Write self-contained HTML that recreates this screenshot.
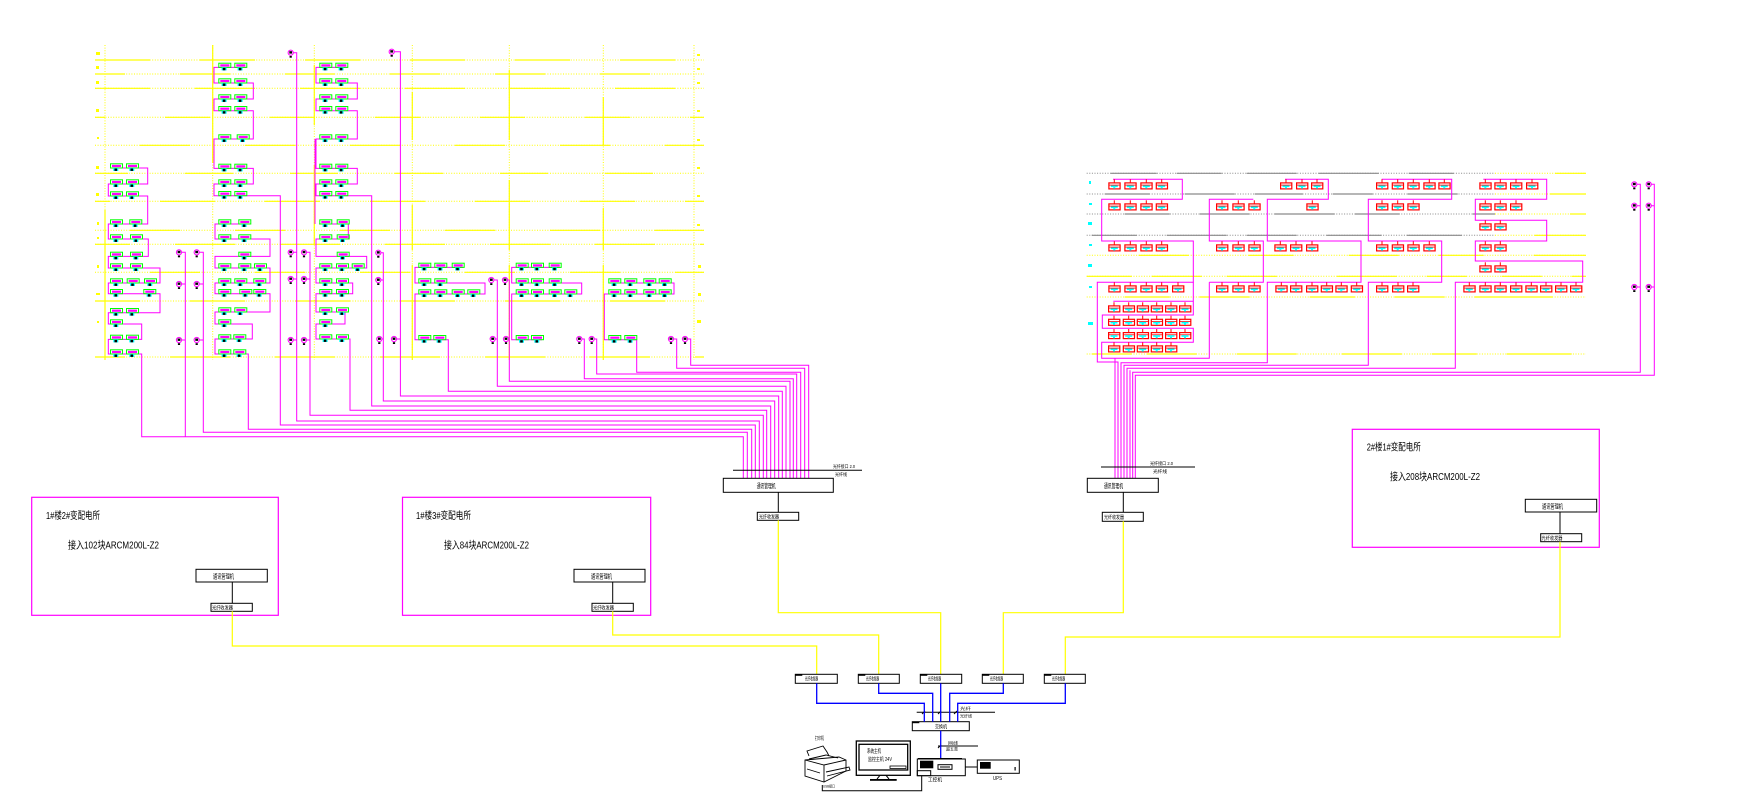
<!DOCTYPE html>
<html><head><meta charset="utf-8">
<style>
html,body{margin:0;padding:0;background:#fff;}
svg{display:block;}
.yd{stroke:#ff0;stroke-width:1;stroke-dasharray:1 1.6;fill:none}
.ys{stroke:#ff0;stroke-width:1.2;fill:none}
.gd{stroke:#8a8a8a;stroke-width:1;stroke-dasharray:1 1.6;fill:none}
.gs{stroke:#8a8a8a;stroke-width:1.2;fill:none}
.m{stroke:#f0f;fill:none;stroke-width:1}
.k{stroke:#000;fill:none;stroke-width:1}
.b{stroke:#00f;fill:none;stroke-width:1.3}
.yl{stroke:#ff0;fill:none;stroke-width:1.2}
text{font-family:"Liberation Sans","Noto Sans CJK SC",sans-serif;fill:#000}
</style></head>
<body>
<svg width="1744" height="812" viewBox="0 0 1744 812" xmlns="http://www.w3.org/2000/svg">
<defs>
<g id="dg">
<rect x="0.5" y="0.5" width="12" height="4.2" fill="none" stroke="#00ff00" stroke-width="1"/>
<rect x="2" y="1.6" width="9" height="2.2" fill="#ff00ff"/>
<rect x="3.3" y="4.7" width="5" height="3" fill="#00ffff"/>
<rect x="4.5" y="5.2" width="2.6" height="2.4" fill="#000"/>
</g>
<g id="dr">
<line x1="6" y1="-3" x2="6" y2="0.5" stroke="#f00" stroke-width="1"/>
<rect x="0.6" y="0.6" width="11.2" height="6" fill="none" stroke="#f00" stroke-width="1.2"/>
<line x1="0.6" y1="2.8" x2="11.8" y2="2.8" stroke="#f00" stroke-width="0.8"/>
<rect x="2.5" y="3.2" width="7" height="1.6" fill="#0ff"/>
<rect x="5" y="4.8" width="2" height="1.5" fill="#0ff"/>
</g>
<g id="pd">
<circle r="2.6" fill="none" stroke="#f0f" stroke-width="1"/>
<rect x="-1.4" y="-1.5" width="2.8" height="2.4" fill="#000"/>
<rect x="-1.1" y="3.2" width="2.2" height="1.8" fill="#000"/>
</g>
</defs>

<!-- ============ LEFT SECTION GRID ============ -->
<g>
<line class="yd" x1="95" y1="60" x2="704" y2="60"/><line class="ys" x1="95" y1="60" x2="704" y2="60" stroke-dasharray="55 50" stroke-dashoffset="0"/>
<line class="yd" x1="95" y1="74" x2="704" y2="74"/><line class="ys" x1="95" y1="74" x2="704" y2="74" stroke-dasharray="50 55" stroke-dashoffset="20"/>
<line class="yd" x1="95" y1="88.3" x2="704" y2="88.3"/><line class="ys" x1="95" y1="88.3" x2="704" y2="88.3" stroke-dasharray="60 45" stroke-dashoffset="5"/>
<line class="yd" x1="95" y1="117.3" x2="704" y2="117.3"/><line class="ys" x1="95" y1="117.3" x2="704" y2="117.3" stroke-dasharray="45 60" stroke-dashoffset="35"/>
<line class="yd" x1="95" y1="145.3" x2="704" y2="145.3"/><line class="ys" x1="95" y1="145.3" x2="704" y2="145.3" stroke-dasharray="50 55" stroke-dashoffset="60"/>
<line class="yd" x1="95" y1="173.3" x2="704" y2="173.3"/><line class="ys" x1="95" y1="173.3" x2="704" y2="173.3" stroke-dasharray="48 57" stroke-dashoffset="15"/>
<line class="yd" x1="95" y1="201.3" x2="704" y2="201.3"/><line class="ys" x1="95" y1="201.3" x2="704" y2="201.3" stroke-dasharray="55 50" stroke-dashoffset="40"/>
<line class="yd" x1="95" y1="230.3" x2="704" y2="230.3"/><line class="ys" x1="95" y1="230.3" x2="704" y2="230.3" stroke-dasharray="50 55" stroke-dashoffset="70"/>
<line class="yd" x1="95" y1="244.3" x2="704" y2="244.3"/><line class="ys" x1="95" y1="244.3" x2="704" y2="244.3" stroke-dasharray="60 45" stroke-dashoffset="25"/>
<line class="yd" x1="95" y1="272.3" x2="704" y2="272.3"/><line class="ys" x1="95" y1="272.3" x2="704" y2="272.3" stroke-dasharray="50 55" stroke-dashoffset="50"/>
<line class="yd" x1="95" y1="301" x2="704" y2="301"/><line class="ys" x1="95" y1="301" x2="704" y2="301" stroke-dasharray="55 50" stroke-dashoffset="10"/>
<line class="yd" x1="95" y1="357" x2="704" y2="357"/><line class="ys" x1="95" y1="357" x2="704" y2="357" stroke-dasharray="60 45" stroke-dashoffset="30"/>
<!-- verticals -->
<line class="yd" x1="105" y1="45" x2="105" y2="360"/><line class="ys" x1="105" y1="45" x2="105" y2="360" stroke-dasharray="0 165 195 0"/>
<line class="yd" x1="212.7" y1="45" x2="212.7" y2="360"/><line class="ys" x1="212.7" y1="45" x2="212.7" y2="163"/>
<line class="yd" x1="314.3" y1="45" x2="314.3" y2="360"/><line class="ys" x1="314.3" y1="45" x2="314.3" y2="360" stroke-dasharray="0 20 60 40 80 300"/>
<line class="yd" x1="412.3" y1="45" x2="412.3" y2="360"/><line class="ys" x1="412.3" y1="45" x2="412.3" y2="360" stroke-dasharray="0 47 48 65 45 15 95"/>
<line class="yd" x1="509.3" y1="45" x2="509.3" y2="360"/><line class="ys" x1="509.3" y1="45" x2="509.3" y2="360" stroke-dasharray="0 25 70 40 70 15 90"/>
<line class="yd" x1="603.3" y1="45" x2="603.3" y2="360"/><line class="ys" x1="603.3" y1="45" x2="603.3" y2="360" stroke-dasharray="0 52 48 63 42 15 90"/>
<line class="yd" x1="694" y1="45" x2="694" y2="360"/>
<!-- floor labels -->
<g fill="#ff0">
<rect x="96" y="52" width="4" height="3"/><rect x="96" y="66" width="3" height="3"/><rect x="96" y="81" width="3" height="3"/>
<rect x="96" y="109" width="3" height="3"/><rect x="97" y="137" width="2" height="2"/><rect x="96" y="166" width="3" height="3"/>
<rect x="96" y="193" width="3" height="3"/><rect x="97" y="222" width="2" height="3"/><rect x="97" y="237" width="2" height="2"/>
<rect x="97" y="265" width="2" height="3"/><rect x="96" y="293" width="4" height="2"/><rect x="97" y="321" width="2" height="2"/>
<rect x="697" y="54" width="3" height="2"/><rect x="697" y="68" width="3" height="2"/><rect x="697" y="82" width="3" height="2"/>
<rect x="697" y="110" width="3" height="2"/><rect x="697" y="139" width="3" height="2"/><rect x="697" y="167" width="3" height="2"/>
<rect x="697" y="195" width="3" height="2"/><rect x="697" y="224" width="3" height="2"/><rect x="698" y="265" width="3" height="3"/>
<rect x="698" y="293" width="3" height="3"/><rect x="697" y="320" width="4" height="3"/>
</g>
</g>

<!-- ============ LEFT MAGENTA CHAINS / BUNDLE ============ -->
<g class="m">
<path d="M110 168H147.7V184H108.3V196H147.7V224H108.3V239H148.3V256.4H108.3V268H160V283H108.3V293.7H160V312.7H108.3V324H141.7V339.4H108.3V354H141.7V436.7H743.3V478.3"/>
<path d="M181.6 252.3H185.3V436.7M181.6 284H185.3M181.6 340H185.3"/>
<path d="M199.3 252.3H203.3V432.3H747.3V478.3M199.3 284H203.3M199.3 340H203.3"/>
<path d="M247 67.4H214V83H253.3V99H214V110.7H253.3V139H214V168.4H253.3V184H214V195.7H280.3V425H755.3V478.3"/>
<path d="M251 224H215V239H270V256.4H215V268H270V283H215V293.7H270V312H215V324H252.3V339H215V354H248.3V429.3H751.7V478.3"/>
<path d="M293.3 52.7H296.7V421H759.3V478.3M293.3 252.3H296.7M293.3 279H296.7M293.3 340H296.7"/>
<path d="M306.6 252.3H310V415.3H763.3V478.3M306.6 279H310M306.6 340H310"/>
<path d="M348 67.4H316V83H357.3V99H316V110.7H357.3V139H316V168.4H357.3V184H316V195.7H371.7V406H770.7V478.3"/>
<path d="M315 139V224"/>
<path d="M319 224H348.3V239H316V256.4H366.7V268H316V283H352.7V293.7H316V312H345V324H316V339H350V410.3H766.7V478.3"/>
<path d="M380.9 252.7H383.3V401H774.7V478.3M380.9 280H383.3M381.9 339H383.3"/>
<path d="M394.3 51.7H400.4V396H778.7V478.3M396.6 339H400.4"/>
<path d="M463.3 267.4H415V283H485V294H415V339.7H448.3V391.3H782.3V478.3"/>
<path d="M493.9 280H497.3V386.3H786V478.3M495.3 339H497.3"/>
<path d="M507.6 280H509.3V381.3H790V478.3M508.6 339H509.3"/>
<path d="M560 267.4H511.7V283H581.7V294H511.7V339.7H542"/>
<path d="M581.9 339H584.3V378.7H793.3V478.3"/>
<path d="M594.3 339H596.7V374H796.7V478.3"/>
<path d="M608.3 283H674V294H604.3V339.7H636.7V372.3H800.7V478.3"/>
<path d="M673.6 339H676.7V368.3H804.7V478.3"/>
<path d="M687.6 339H690.7V365.3H808.7V478.3"/>
</g>

<!-- pendants left -->
<use href="#pd" x="290.7" y="52.7"/><use href="#pd" x="391.7" y="51.7"/>
<use href="#pd" x="179" y="252.3"/><use href="#pd" x="196.7" y="252.3"/>
<use href="#pd" x="179" y="284"/><use href="#pd" x="196.7" y="284"/>
<use href="#pd" x="179" y="340"/><use href="#pd" x="196.7" y="340"/>
<use href="#pd" x="290.7" y="252.3"/><use href="#pd" x="304" y="252.3"/>
<use href="#pd" x="290.7" y="279"/><use href="#pd" x="304" y="279"/>
<use href="#pd" x="290.7" y="340"/><use href="#pd" x="304" y="340"/>
<use href="#pd" x="378.3" y="252.7"/><use href="#pd" x="378.3" y="280"/>
<use href="#pd" x="379.3" y="339"/><use href="#pd" x="394" y="339"/>
<use href="#pd" x="491.3" y="280"/><use href="#pd" x="505" y="280"/>
<use href="#pd" x="492.7" y="339"/><use href="#pd" x="506" y="339"/>
<use href="#pd" x="579.3" y="339"/><use href="#pd" x="591.7" y="339"/>
<use href="#pd" x="671" y="339"/><use href="#pd" x="685" y="339"/>

<!-- green devices: col A -->
<use href="#dg" x="110" y="163.3"/><use href="#dg" x="126" y="163.3"/>
<use href="#dg" x="110" y="179.3"/><use href="#dg" x="126" y="179.3"/>
<use href="#dg" x="110" y="191.3"/><use href="#dg" x="126" y="191.3"/>
<use href="#dg" x="110" y="219.3"/><use href="#dg" x="129.3" y="219.3"/>
<use href="#dg" x="110" y="234.3"/><use href="#dg" x="130" y="234.3"/>
<use href="#dg" x="110" y="251.7"/><use href="#dg" x="130" y="251.7"/>
<use href="#dg" x="110" y="263.3"/><use href="#dg" x="130" y="263.3"/>
<use href="#dg" x="110" y="278.3"/><use href="#dg" x="126.7" y="278.3"/><use href="#dg" x="144" y="278.3"/>
<use href="#dg" x="110" y="289"/><use href="#dg" x="143.3" y="289"/>
<use href="#dg" x="110" y="308"/><use href="#dg" x="126" y="308"/>
<use href="#dg" x="110" y="319.3"/>
<use href="#dg" x="110" y="334.7"/><use href="#dg" x="126" y="334.7"/>
<use href="#dg" x="110" y="349.3"/><use href="#dg" x="126" y="349.3"/>
<!-- col B -->
<use href="#dg" x="218.3" y="62.7"/><use href="#dg" x="234.3" y="62.7"/>
<use href="#dg" x="218.3" y="78.3"/><use href="#dg" x="234.3" y="78.3"/>
<use href="#dg" x="218.3" y="94.3"/><use href="#dg" x="234.3" y="94.3"/>
<use href="#dg" x="218.3" y="106"/><use href="#dg" x="234.3" y="106"/>
<use href="#dg" x="218.3" y="134.3"/><use href="#dg" x="236.7" y="134.3"/>
<use href="#dg" x="218.3" y="163.7"/><use href="#dg" x="234.3" y="163.7"/>
<use href="#dg" x="218.3" y="179.3"/><use href="#dg" x="234.3" y="179.3"/>
<use href="#dg" x="218.3" y="191"/><use href="#dg" x="234.3" y="191"/>
<use href="#dg" x="218.3" y="219.3"/><use href="#dg" x="238.3" y="219.3"/>
<use href="#dg" x="218.3" y="234.3"/><use href="#dg" x="238.3" y="234.3"/>
<use href="#dg" x="238.3" y="251.7"/>
<use href="#dg" x="218.3" y="263.3"/><use href="#dg" x="238.3" y="263.3"/><use href="#dg" x="254" y="263.3"/>
<use href="#dg" x="218.3" y="278.3"/><use href="#dg" x="234.3" y="278.3"/><use href="#dg" x="253.3" y="278.3"/>
<use href="#dg" x="218.3" y="289"/><use href="#dg" x="239.3" y="289"/><use href="#dg" x="253.3" y="289"/>
<use href="#dg" x="218.3" y="307.3"/><use href="#dg" x="234.3" y="307.3"/>
<use href="#dg" x="218.3" y="319.3"/>
<use href="#dg" x="218.3" y="334.3"/><use href="#dg" x="233.3" y="334.3"/>
<use href="#dg" x="218.3" y="349.3"/><use href="#dg" x="233.3" y="349.3"/>
<!-- col C -->
<use href="#dg" x="319.3" y="62.7"/><use href="#dg" x="335.3" y="62.7"/>
<use href="#dg" x="319.3" y="78.3"/><use href="#dg" x="335.3" y="78.3"/>
<use href="#dg" x="319.3" y="94.3"/><use href="#dg" x="335.3" y="94.3"/>
<use href="#dg" x="319.3" y="106"/><use href="#dg" x="335.3" y="106"/>
<use href="#dg" x="319.3" y="134.3"/><use href="#dg" x="335.3" y="134.3"/>
<use href="#dg" x="319.3" y="163.7"/><use href="#dg" x="335.3" y="163.7"/>
<use href="#dg" x="319.3" y="179.3"/><use href="#dg" x="335.3" y="179.3"/>
<use href="#dg" x="319.3" y="191"/><use href="#dg" x="335.3" y="191"/>
<use href="#dg" x="319.3" y="219.3"/><use href="#dg" x="336.7" y="219.3"/>
<use href="#dg" x="319.3" y="234.3"/><use href="#dg" x="336.7" y="234.3"/>
<use href="#dg" x="336.7" y="251.7"/>
<use href="#dg" x="319.3" y="263.3"/><use href="#dg" x="336" y="263.3"/><use href="#dg" x="351.7" y="263.3"/>
<use href="#dg" x="319.3" y="278.3"/><use href="#dg" x="336" y="278.3"/>
<use href="#dg" x="319.3" y="289"/><use href="#dg" x="336" y="289"/>
<use href="#dg" x="319.3" y="307.3"/><use href="#dg" x="336" y="307.3"/>
<use href="#dg" x="319.3" y="319.3"/>
<use href="#dg" x="319.3" y="334.3"/><use href="#dg" x="336" y="334.3"/>
<!-- group D -->
<use href="#dg" x="418.3" y="262.7"/><use href="#dg" x="434.3" y="262.7"/><use href="#dg" x="451.7" y="262.7"/>
<use href="#dg" x="418.3" y="278.3"/><use href="#dg" x="434.3" y="278.3"/>
<use href="#dg" x="418.3" y="289.3"/><use href="#dg" x="434.3" y="289.3"/><use href="#dg" x="451.7" y="289.3"/><use href="#dg" x="467.3" y="289.3"/>
<use href="#dg" x="418.3" y="335"/><use href="#dg" x="433.3" y="335"/>
<!-- group E -->
<use href="#dg" x="515.7" y="262.7"/><use href="#dg" x="531" y="262.7"/><use href="#dg" x="548.7" y="262.7"/>
<use href="#dg" x="515.7" y="278.3"/><use href="#dg" x="531" y="278.3"/><use href="#dg" x="548.7" y="278.3"/>
<use href="#dg" x="515.7" y="289.3"/><use href="#dg" x="531" y="289.3"/><use href="#dg" x="548.7" y="289.3"/><use href="#dg" x="564.3" y="289.3"/>
<use href="#dg" x="515.7" y="335"/><use href="#dg" x="531" y="335"/>
<!-- group F -->
<use href="#dg" x="608.3" y="278.3"/><use href="#dg" x="624.3" y="278.3"/><use href="#dg" x="643.3" y="278.3"/><use href="#dg" x="658.7" y="278.3"/>
<use href="#dg" x="608.3" y="289.3"/><use href="#dg" x="624.3" y="289.3"/><use href="#dg" x="643.3" y="289.3"/><use href="#dg" x="658.7" y="289.3"/>
<use href="#dg" x="608.3" y="335"/><use href="#dg" x="624.3" y="335"/>

<!-- ============ RIGHT SECTION GRID ============ -->
<g>
<line class="gd" x1="1086.7" y1="173.3" x2="1495" y2="173.3"/><line class="gs" x1="1086.7" y1="173.3" x2="1495" y2="173.3" stroke-dasharray="0 24 46 20 45 25 50 22 60 30 45 35"/>
<line class="gd" x1="1086.7" y1="194" x2="1495" y2="194"/><line class="gs" x1="1086.7" y1="194" x2="1495" y2="194" stroke-dasharray="0 18 45 35 50 20 48 30 40 35 50 25"/>
<line class="gd" x1="1086.7" y1="214" x2="1495" y2="214"/><line class="gs" x1="1086.7" y1="214" x2="1495" y2="214" stroke-dasharray="0 38 45 30 50 25 60 20 45 35"/>
<line class="gd" x1="1086.7" y1="235.3" x2="1495" y2="235.3"/><line class="gs" x1="1086.7" y1="235.3" x2="1495" y2="235.3" stroke-dasharray="0 5 45 30 60 20 50 30 55 25 50"/>
<line class="yd" x1="1495" y1="173.3" x2="1586" y2="173.3"/><line class="ys" x1="1555" y1="173.3" x2="1586" y2="173.3"/>
<line class="yd" x1="1495" y1="194" x2="1586" y2="194"/><line class="ys" x1="1550" y1="194" x2="1586" y2="194"/>
<line class="yd" x1="1495" y1="214" x2="1586" y2="214"/><line class="ys" x1="1570" y1="214" x2="1586" y2="214"/>
<line class="yd" x1="1495" y1="235.3" x2="1586" y2="235.3"/><line class="ys" x1="1535" y1="235.3" x2="1586" y2="235.3"/>
<line class="yd" x1="1086.7" y1="255.3" x2="1586" y2="255.3"/><line class="ys" x1="1086.7" y1="255.3" x2="1586" y2="255.3" stroke-dasharray="0 52 50 60 45 55 50 40 45 50 40"/>
<line class="yd" x1="1086.7" y1="276.3" x2="1586" y2="276.3"/><line class="ys" x1="1086.7" y1="276.3" x2="1586" y2="276.3" stroke-dasharray="45 20 50 25 50 60 60 30 40 35 40 30"/>
<line class="yd" x1="1086.7" y1="297" x2="1586" y2="297"/><line class="ys" x1="1086.7" y1="297" x2="1586" y2="297" stroke-dasharray="0 38 45 30 50 60 45 40 50 30 40"/>
<line class="yd" x1="1086.7" y1="354" x2="1586" y2="354"/><line class="ys" x1="1086.7" y1="354" x2="1586" y2="354" stroke-dasharray="0 5 40 15 50 40 60 45 60 30 45 30 60"/>
<g fill="#0ff">
<rect x="1089" y="181" width="2" height="3"/><rect x="1089" y="203" width="3" height="2"/><rect x="1088" y="222" width="4" height="3"/>
<rect x="1089" y="244" width="3" height="2"/><rect x="1088" y="264" width="4" height="3"/><rect x="1089" y="286" width="3" height="2"/>
<rect x="1088" y="322" width="5" height="3"/>
</g>
</g>

<!-- right magenta -->
<g class="m">
<path d="M1113 179.3H1182.3V199.3H1101.7V241H1193.3V282.3H1097.3V362H1118V478.3"/>
<path d="M1193.3 282.3V301.3M1113.3 301.3H1193.3V315H1102.3V328.3H1193.3V342.3H1101.7V358.3H1209.3V282.3"/>
<path d="M1115 358.3V478.3"/>
<path d="M1253.3 199.3H1209.3V241H1263.3V282.3H1209.3"/>
<path d="M1285 179.3H1328.3V199.3H1267.3V241H1361V282.3H1267.3V362.7H1121V478.3"/>
<path d="M1381.7 179.3H1451.7V199.3H1368.3V241H1441.7V282.3H1368.3V365.3H1124V478.3"/>
<path d="M1483.3 179.3H1546.7V199.3H1475.3V220.3H1546.7V241H1475.3V261H1582.7V282.3H1455.3V368.3H1127V478.3"/>
<path d="M1130 370.3V478.3"/>
<path d="M1637 184.3H1640.3V372.3H1132.7V478.3M1637 205.7H1640.3M1637 287H1640.3"/>
<path d="M1651.4 184.3H1654.3V375.3H1135.3V478.3M1651.4 205.7H1654.3M1651.4 287H1654.3"/>
</g>
<use href="#pd" x="1634.3" y="184.3"/><use href="#pd" x="1648.7" y="184.3"/>
<use href="#pd" x="1634.3" y="205.7"/><use href="#pd" x="1648.7" y="205.7"/>
<use href="#pd" x="1634.3" y="287"/><use href="#pd" x="1648.7" y="287"/>

<!-- red devices group 1 -->
<use href="#dr" x="1108.3" y="182.3"/><use href="#dr" x="1124.3" y="182.3"/><use href="#dr" x="1140.3" y="182.3"/><use href="#dr" x="1155.7" y="182.3"/>
<use href="#dr" x="1108.3" y="203.3"/><use href="#dr" x="1124.3" y="203.3"/><use href="#dr" x="1140.3" y="203.3"/><use href="#dr" x="1155.7" y="203.3"/>
<use href="#dr" x="1108.3" y="244.3"/><use href="#dr" x="1124.3" y="244.3"/><use href="#dr" x="1140.3" y="244.3"/><use href="#dr" x="1155.7" y="244.3"/>
<use href="#dr" x="1108.3" y="285.3"/><use href="#dr" x="1124.3" y="285.3"/><use href="#dr" x="1140.3" y="285.3"/><use href="#dr" x="1155.7" y="285.3"/><use href="#dr" x="1172" y="285.3"/>
<use href="#dr" x="1108" y="305.3"/><use href="#dr" x="1122.7" y="305.3"/><use href="#dr" x="1136.7" y="305.3"/><use href="#dr" x="1150.7" y="305.3"/><use href="#dr" x="1165" y="305.3"/><use href="#dr" x="1179" y="305.3"/>
<use href="#dr" x="1108" y="318.7"/><use href="#dr" x="1122.7" y="318.7"/><use href="#dr" x="1136.7" y="318.7"/><use href="#dr" x="1150.7" y="318.7"/><use href="#dr" x="1165" y="318.7"/><use href="#dr" x="1179" y="318.7"/>
<use href="#dr" x="1108" y="332"/><use href="#dr" x="1122.7" y="332"/><use href="#dr" x="1136.7" y="332"/><use href="#dr" x="1150.7" y="332"/><use href="#dr" x="1165" y="332"/><use href="#dr" x="1179" y="332"/>
<use href="#dr" x="1108" y="345.3"/><use href="#dr" x="1122.7" y="345.3"/><use href="#dr" x="1136.7" y="345.3"/><use href="#dr" x="1150.7" y="345.3"/><use href="#dr" x="1165" y="345.3"/>
<!-- group 2 -->
<use href="#dr" x="1216" y="203.3"/><use href="#dr" x="1232.3" y="203.3"/><use href="#dr" x="1248.3" y="203.3"/>
<use href="#dr" x="1216" y="244.3"/><use href="#dr" x="1232.3" y="244.3"/><use href="#dr" x="1248.3" y="244.3"/>
<use href="#dr" x="1216" y="285.3"/><use href="#dr" x="1232.3" y="285.3"/><use href="#dr" x="1248.3" y="285.3"/>
<!-- group 3 -->
<use href="#dr" x="1280" y="182.3"/><use href="#dr" x="1296" y="182.3"/><use href="#dr" x="1311" y="182.3"/>
<use href="#dr" x="1306.3" y="203.3"/>
<use href="#dr" x="1274.3" y="244.3"/><use href="#dr" x="1290" y="244.3"/><use href="#dr" x="1306" y="244.3"/>
<use href="#dr" x="1275.3" y="285.3"/><use href="#dr" x="1290" y="285.3"/><use href="#dr" x="1306" y="285.3"/><use href="#dr" x="1320.7" y="285.3"/><use href="#dr" x="1335.3" y="285.3"/><use href="#dr" x="1350.7" y="285.3"/>
<!-- group 4 -->
<use href="#dr" x="1376" y="182.3"/><use href="#dr" x="1391.7" y="182.3"/><use href="#dr" x="1407.3" y="182.3"/><use href="#dr" x="1423.3" y="182.3"/><use href="#dr" x="1438.3" y="182.3"/>
<use href="#dr" x="1376" y="203.3"/><use href="#dr" x="1391.7" y="203.3"/><use href="#dr" x="1407.3" y="203.3"/>
<use href="#dr" x="1376" y="244.3"/><use href="#dr" x="1391.7" y="244.3"/><use href="#dr" x="1407.3" y="244.3"/><use href="#dr" x="1423.3" y="244.3"/>
<use href="#dr" x="1376" y="285.3"/><use href="#dr" x="1392" y="285.3"/><use href="#dr" x="1407" y="285.3"/>
<!-- group 5 -->
<use href="#dr" x="1479.3" y="182.3"/><use href="#dr" x="1494.3" y="182.3"/><use href="#dr" x="1510" y="182.3"/><use href="#dr" x="1526" y="182.3"/>
<use href="#dr" x="1479.3" y="203.3"/><use href="#dr" x="1494.3" y="203.3"/><use href="#dr" x="1510" y="203.3"/>
<use href="#dr" x="1479.3" y="223.3"/><use href="#dr" x="1494.3" y="223.3"/>
<use href="#dr" x="1479.3" y="244.3"/><use href="#dr" x="1494.3" y="244.3"/>
<use href="#dr" x="1479.3" y="265.3"/><use href="#dr" x="1494.3" y="265.3"/>
<use href="#dr" x="1463.3" y="285.3"/><use href="#dr" x="1479.3" y="285.3"/><use href="#dr" x="1494.3" y="285.3"/><use href="#dr" x="1510" y="285.3"/><use href="#dr" x="1525.3" y="285.3"/><use href="#dr" x="1540" y="285.3"/><use href="#dr" x="1555" y="285.3"/><use href="#dr" x="1570" y="285.3"/>

<!-- ============ BUNDLE BOXES ============ -->
<g class="k">
<line x1="733" y1="470.3" x2="862" y2="470.3"/>
<rect x="723.3" y="478.3" width="110" height="14"/>
<line x1="778.3" y1="492.3" x2="778.3" y2="512.3"/>
<rect x="757.3" y="512.3" width="41.4" height="8"/>
<line x1="1101" y1="467" x2="1195" y2="467"/>
<rect x="1087.3" y="478.3" width="71" height="14"/>
<line x1="1123.3" y1="492.3" x2="1123.3" y2="512.3"/>
<rect x="1102.3" y="512.3" width="41" height="9"/>
</g>
<text x="756.7" y="488" font-size="6.5" textLength="19" lengthAdjust="spacingAndGlyphs">通讯管理机</text>
<text x="759" y="518.5" font-size="5" textLength="20" lengthAdjust="spacingAndGlyphs">光纤收发器</text>
<text x="833" y="468" font-size="4.5" textLength="22" lengthAdjust="spacingAndGlyphs">光纤接口 2.0</text>
<text x="835" y="476" font-size="4.5" textLength="12" lengthAdjust="spacingAndGlyphs">光纤线</text>
<text x="1104" y="488" font-size="6.5" textLength="19" lengthAdjust="spacingAndGlyphs">通讯管理机</text>
<text x="1104" y="519" font-size="5" textLength="20" lengthAdjust="spacingAndGlyphs">光纤收发器</text>
<text x="1150" y="465" font-size="4.5" textLength="23" lengthAdjust="spacingAndGlyphs">光纤接口 2.0</text>
<text x="1153" y="473" font-size="4.5" textLength="14" lengthAdjust="spacingAndGlyphs">光纤线</text>

<!-- ============ SUBSTATION BOXES ============ -->
<g stroke="#f0f" stroke-width="1.2" fill="none">
<rect x="31.7" y="497.3" width="246.6" height="118"/>
<rect x="402.5" y="497.3" width="248.2" height="118"/>
<rect x="1352.3" y="429.3" width="247" height="118"/>
</g>
<g class="k">
<rect x="196" y="569.3" width="71.3" height="12.7"/>
<line x1="232.3" y1="582" x2="232.3" y2="603.3"/>
<rect x="211" y="603.3" width="41.3" height="8"/>
<rect x="574" y="569.3" width="71" height="12.7"/>
<line x1="612.7" y1="582" x2="612.7" y2="603.3"/>
<rect x="592" y="603.3" width="41.3" height="8"/>
<rect x="1525.3" y="499.3" width="71.4" height="12.7"/>
<line x1="1560" y1="512" x2="1560" y2="533.7"/>
<rect x="1540.7" y="533.7" width="41" height="8"/>
</g>
<text x="46" y="519" font-size="10" textLength="54" lengthAdjust="spacingAndGlyphs">1#楼2#变配电所</text>
<text x="68" y="548.5" font-size="10.5" textLength="91" lengthAdjust="spacingAndGlyphs">接入102块ARCM200L-Z2</text>
<text x="213" y="578.5" font-size="6.5" textLength="21" lengthAdjust="spacingAndGlyphs">通讯管理机</text>
<text x="212" y="609.5" font-size="5" textLength="21" lengthAdjust="spacingAndGlyphs">光纤收发器</text>
<text x="416" y="519" font-size="10" textLength="55" lengthAdjust="spacingAndGlyphs">1#楼3#变配电所</text>
<text x="444" y="548.5" font-size="10.5" textLength="85" lengthAdjust="spacingAndGlyphs">接入84块ARCM200L-Z2</text>
<text x="591" y="578.5" font-size="6.5" textLength="21" lengthAdjust="spacingAndGlyphs">通讯管理机</text>
<text x="593" y="609.5" font-size="5" textLength="21" lengthAdjust="spacingAndGlyphs">光纤收发器</text>
<text x="1366.7" y="450.7" font-size="10" textLength="54" lengthAdjust="spacingAndGlyphs">2#楼1#变配电所</text>
<text x="1390" y="480" font-size="10.5" textLength="90" lengthAdjust="spacingAndGlyphs">接入208块ARCM200L-Z2</text>
<text x="1542" y="508.5" font-size="6.5" textLength="21" lengthAdjust="spacingAndGlyphs">通讯管理机</text>
<text x="1541.5" y="540" font-size="5" textLength="21" lengthAdjust="spacingAndGlyphs">光纤收发器</text>

<!-- ============ YELLOW FIBER LINES ============ -->
<g class="yl">
<path d="M232.3 611.3V646H816.7V674.3"/>
<path d="M612.7 611.3V635H878.7V674.3"/>
<path d="M778.3 520.3V612.7H940.7V674.3"/>
<path d="M1123.3 521.3V612.7H1003.3V674.3"/>
<path d="M1560 541.7V637H1065.3V674.3"/>
</g>

<!-- ============ BOTTOM SECTION ============ -->
<g class="k">
<rect x="795.3" y="674.3" width="42" height="9"/>
<rect x="858.3" y="674.3" width="41" height="9"/>
<rect x="920.3" y="674.3" width="41.4" height="9"/>
<rect x="982.3" y="674.3" width="41" height="9"/>
<rect x="1044.3" y="674.3" width="41" height="9"/>
<line x1="916.7" y1="712.3" x2="995" y2="712.3"/>
<rect x="912.3" y="721.7" width="57" height="9"/>
<line x1="938" y1="746" x2="978" y2="746"/>
<line x1="922" y1="714" x2="925" y2="711"/><line x1="938" y1="714" x2="941" y2="711"/><line x1="954" y1="714" x2="957" y2="711"/>
<line x1="938" y1="748" x2="941" y2="745"/>
</g>
<g fill="#000">
<rect x="795.3" y="674.3" width="7" height="1.5"/><rect x="858.3" y="674.3" width="7" height="1.5"/><rect x="920.3" y="674.3" width="7" height="1.5"/><rect x="982.3" y="674.3" width="7" height="1.5"/><rect x="1044.3" y="674.3" width="7" height="1.5"/>
<rect x="912.3" y="721.7" width="7" height="1.5"/>
</g>
<text x="805" y="680.5" font-size="5" textLength="13" lengthAdjust="spacingAndGlyphs">光纤收发器</text>
<text x="866" y="680.5" font-size="5" textLength="13" lengthAdjust="spacingAndGlyphs">光纤收发器</text>
<text x="928" y="680.5" font-size="5" textLength="13" lengthAdjust="spacingAndGlyphs">光纤收发器</text>
<text x="990" y="680.5" font-size="5" textLength="13" lengthAdjust="spacingAndGlyphs">光纤收发器</text>
<text x="1052" y="680.5" font-size="5" textLength="13" lengthAdjust="spacingAndGlyphs">光纤收发器</text>
<text x="935" y="728.5" font-size="5" textLength="12" lengthAdjust="spacingAndGlyphs">交换机</text>
<text x="960" y="710" font-size="4" textLength="11" lengthAdjust="spacingAndGlyphs">光纤</text>
<text x="960" y="717.5" font-size="4" textLength="12" lengthAdjust="spacingAndGlyphs">光纤线</text>
<text x="948" y="744.5" font-size="4" textLength="10" lengthAdjust="spacingAndGlyphs">网线</text>
<text x="946" y="750.5" font-size="4" textLength="12" lengthAdjust="spacingAndGlyphs">超五类</text>
<g class="b">
<path d="M816.7 683.3V703.3H924.3V721.7"/>
<path d="M878.7 683.3V693.3H932.7V721.7"/>
<path d="M940.7 683.3V721.7"/>
<path d="M1003.3 683.3V693.3H949.7V721.7"/>
<path d="M1065.3 683.3V703.3H957.7V721.7"/>
<path d="M940.7 730.7V759"/>
</g>
<!-- host -->
<g class="k">
<rect x="917.3" y="759" width="48" height="16.7"/>
<rect x="938" y="764.7" width="14" height="4.6"/>
<line x1="940" y1="767" x2="950" y2="767"/>
<rect x="917.3" y="770.7" width="13.4" height="5"/>
<line x1="918" y1="758.5" x2="962" y2="758.5"/>
<rect x="977.3" y="760" width="42" height="13.3"/>
<line x1="965.3" y1="767" x2="977.3" y2="767"/>
<path d="M822.3 785V790.7H921.7V775.7"/>
</g>
<rect x="920" y="760.7" width="13.3" height="7.6" fill="#000"/>
<rect x="980" y="762" width="10.7" height="6.7" fill="#000"/>
<rect x="1014.5" y="767" width="1.2" height="3.5" fill="#000"/>
<text x="928" y="781.5" font-size="5" textLength="14" lengthAdjust="spacingAndGlyphs">工控机</text>
<text x="993" y="780" font-size="5" textLength="9" lengthAdjust="spacingAndGlyphs">UPS</text>
<!-- monitor -->
<g stroke="#000" fill="none">
<rect x="856.3" y="741" width="54" height="34.3" stroke-width="1.3"/>
<rect x="859" y="744.3" width="48.7" height="25.7" stroke-width="1.3"/>
<path d="M880 775.3L877 779M886 775.3L889 779" stroke-width="1"/>
<rect x="890" y="766" width="16" height="2.5" stroke-width="0.8"/>
</g>
<rect x="870" y="779" width="26.7" height="1.8" fill="#000"/>
<text x="867" y="753" font-size="5.5" textLength="14" lengthAdjust="spacingAndGlyphs">系统主机</text>
<text x="868" y="761" font-size="5" textLength="24" lengthAdjust="spacingAndGlyphs">监控主机 24V</text>
<!-- printer -->
<g stroke="#000" fill="none" stroke-width="0.9">
<path d="M809 756L807 751L823 746L827 752L829 756"/>
<path d="M805 760L839 757L846 760L846 771L824 782L805 776Z"/>
<path d="M805 760L824 765L846 760M824 765V782"/>
<path d="M809 759L826 755L838 758"/>
<path d="M826 772L849 767L850 770L827 776"/>
<path d="M807 769L820 773"/>
</g>
<text x="815" y="740" font-size="5" textLength="9" lengthAdjust="spacingAndGlyphs">打印机</text>
<text x="823" y="787.5" font-size="3.5" textLength="12" lengthAdjust="spacingAndGlyphs">USB接口</text>
</svg>
</body></html>
